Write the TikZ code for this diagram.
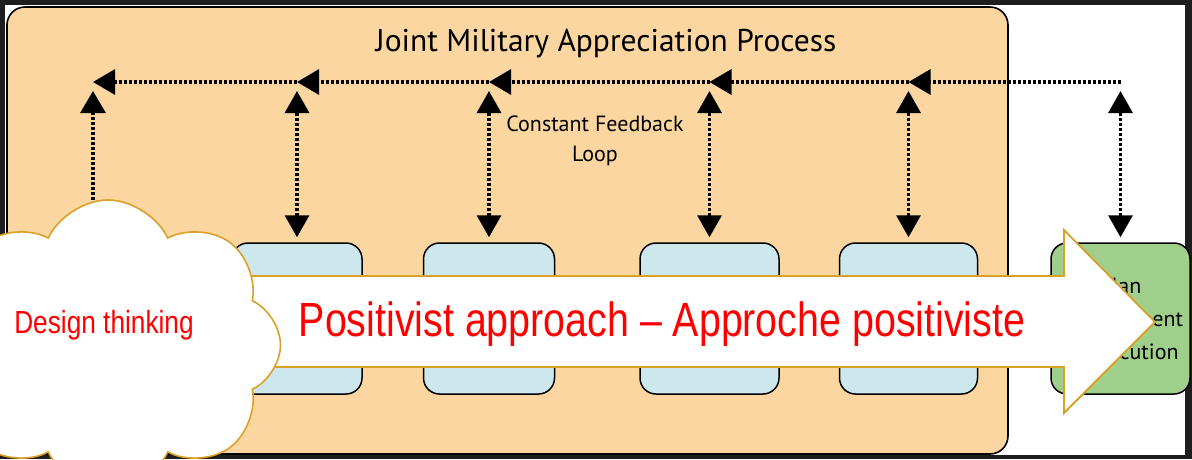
\documentclass[tikz,border=0pt]{standalone}
\usepackage{fontspec}
\usetikzlibrary{arrows.meta,positioning,shapes.symbols}

\newfontfamily\jmapfont{PT Sans}
\newfontfamily\narrowfont[FakeStretch=0.82]{Liberation Sans}

\definecolor{framegray}{RGB}{30,30,30}
\definecolor{jmaporange}{RGB}{252,214,160}
\definecolor{stageblue}{RGB}{205,232,236}
\definecolor{plangreen}{RGB}{160,207,140}
\definecolor{gold}{RGB}{218,160,40}

\tikzset{
  stage/.style={draw=black, line width=1.5pt, rounded corners=16pt,
    fill=stageblue, minimum height=151pt, inner sep=0pt},
  feedback/.style={line width=3.2pt, dash pattern=on 3pt off 2pt},
  fbarrow/.style={feedback, -{Triangle[length=22pt,width=25pt]}},
  fbboth/.style={feedback,
    {Triangle[length=22pt,width=24pt]}-{Triangle[length=22pt,width=24pt]}},
}

\begin{document}
\begin{tikzpicture}[x=1pt, y=-1pt]
  \useasboundingbox (0,0) rectangle (1192,459);
  \clip (0,0) rectangle (1192,459);
  \fill[framegray] (0,0) rectangle (1192,459);
  \fill[white] (5,5) rectangle (1185,455);

  % process frame
  \draw[line width=1.6pt, fill=jmaporange, rounded corners=18pt] (7,7) rectangle (1008,454);
  \node[font=\jmapfont\fontsize{31.5}{31.5}\selectfont] (title) at (606,44) {Joint Military Appreciation Process};
  \node[font=\jmapfont\fontsize{22}{30}\selectfont, align=center] (fbtext) at (595,141) {Constant Feedback\\Loop};

  % stages
  \node[stage, minimum width=130pt] (b1) at (297,318.5) {};
  \node[stage, minimum width=131pt, right=60pt of b1] (b2) {};
  \node[stage, minimum width=139pt, right=84pt of b2] (b3) {};
  \node[stage, minimum width=138pt, right=59pt of b3] (b4) {};
  \node[stage, minimum width=139pt, fill=plangreen, right=72pt of b4,
    font=\jmapfont\fontsize{22}{33}\selectfont, align=center] (plan) {Plan\\Development\\\& Execution};

  % feedback loop
  \coordinate (loop) at (0,82);
  \coordinate (d0) at (93,260);
  \foreach \a/\b in {plan/b4, b4/b3, b3/b2, b2/b1}
    \draw[fbarrow] (\a.north |- loop) -- (\b.north |- loop);
  \draw[fbarrow] (b1.north |- loop) -- (d0 |- loop);
  \foreach \s in {b1,b2,b3,b4,plan}
    \draw[fbboth, shorten <=5pt] (\s.north) -- ([yshift=-9pt]\s.north |- loop);
  \draw[fbarrow] (d0) -- ([yshift=-9pt]d0 |- loop);

  % approaches
  \draw[gold, line width=1.8pt, fill=white, line join=miter]
    (200,276) -- (1064,276) -- (1064,230) -- (1155,322) -- (1064,413) -- (1064,367) -- (200,367) -- cycle;
  \node[text=red, font=\narrowfont\fontsize{48}{48}\selectfont] (pos) at (662,324) {Positivist approach – Approche positiviste};
  \node[cloud, cloud puffs=8, cloud puff arc=130, aspect=1.1, draw=gold, fill=white, line width=1.6pt,
    minimum width=345pt, minimum height=290pt] (cl) at (108,345) {};
  \node[text=red, font=\narrowfont\fontsize{32}{32}\selectfont] (dt) at (104,325) {Design thinking};
\end{tikzpicture}
\end{document}
